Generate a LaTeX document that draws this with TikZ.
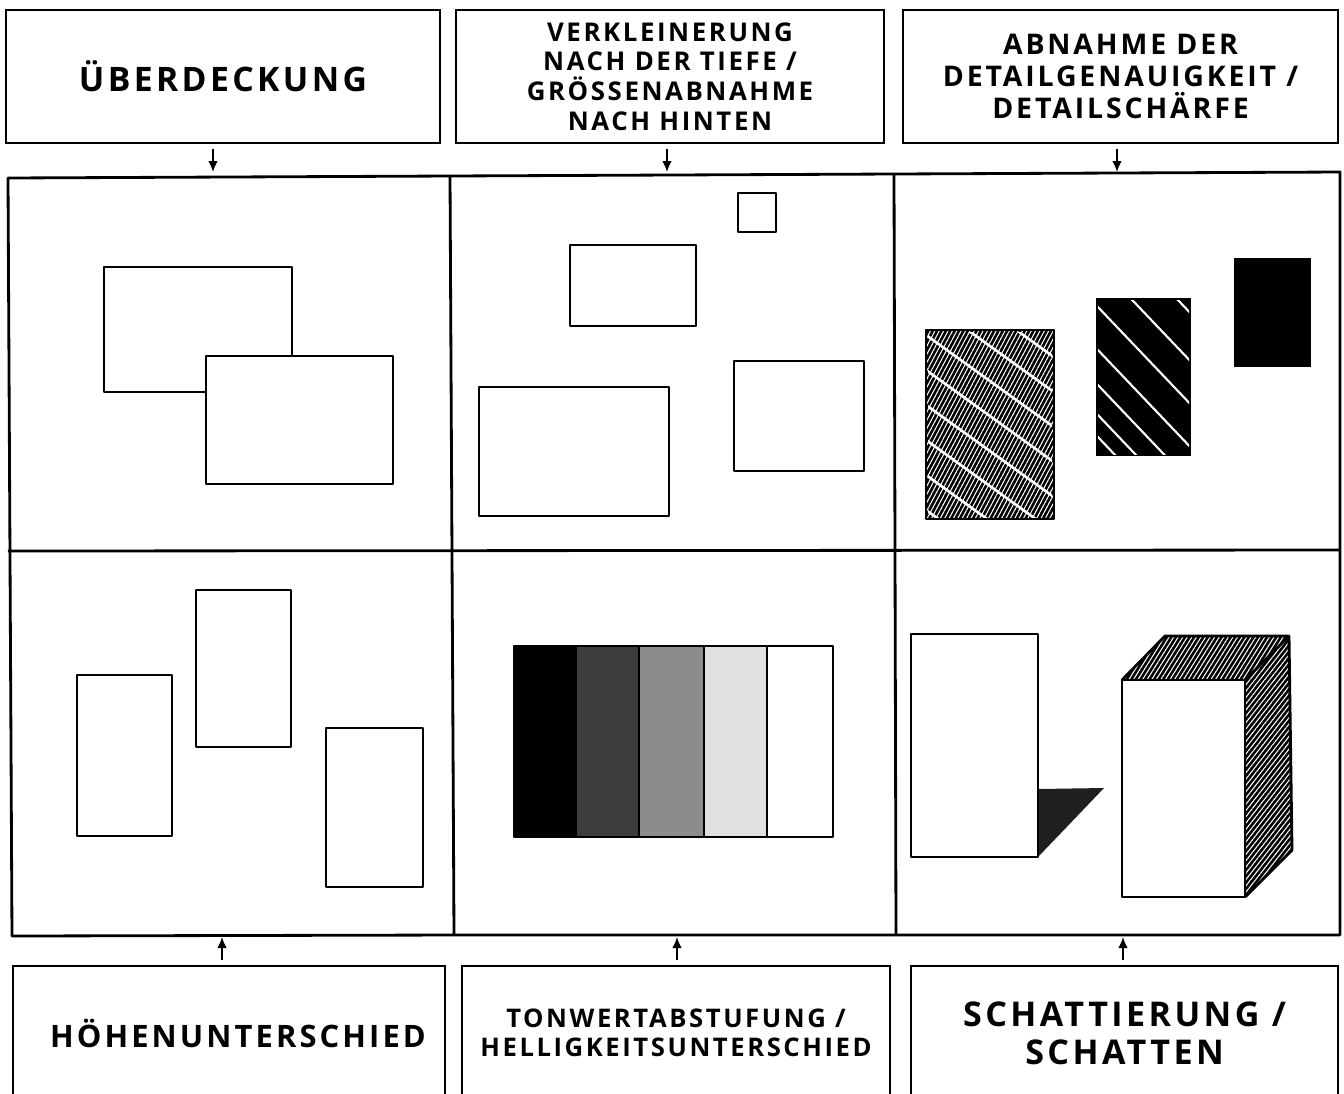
\documentclass[tikz,border=0pt]{standalone}
\usepackage{fontspec}
\setmainfont{Open Sans}[LetterSpace=10]
\usetikzlibrary{arrows.meta,patterns.meta}
\newcommand{\ts}[2]{\fontsize{#1}{#2}\selectfont\bfseries}

\begin{document}
\begin{tikzpicture}[x=0.02cm,y=-0.02cm,
  kasten/.style={draw,line width=1.5pt,align=center,inner sep=0pt},
  pfeil/.style={line width=0.9pt,-{Latex[length=2.2mm,width=1.9mm]}},
  strich/.style={line width=1.6pt,line join=round},
  schraffur/.style={pattern={Lines[angle=#1,distance=2.2pt,line width=0.6pt]},pattern color=white}]

\clip (0,0) rectangle (1344,1093);
\fill[white] (0,0) rectangle (1344,1093);

% Kaesten oben
\node[kasten,minimum width=8.68cm,minimum height=2.66cm,font=\ts{19.2}{22}] (t1) at (223,76.5) {ÜBERDECKUNG};
\node[kasten,minimum width=8.56cm,minimum height=2.66cm,font=\ts{14.7}{16.8}] (t2) at (670,76.5)
  {VERKLEINERUNG\\NACH DER TIEFE /\\GRÖSSENABNAHME\\NACH HINTEN};
\node[kasten,minimum width=8.70cm,minimum height=2.66cm,font=\ts{16.2}{18.2}] (t3) at (1120.5,76.5)
  {ABNAHME DER\\DETAILGENAUIGKEIT /\\DETAILSCHÄRFE};

% Kaesten unten
\node[kasten,minimum width=8.64cm,minimum height=2.68cm,font=\ts{17.6}{22}] (b1) at (229,1033)
  {\hspace*{0.36cm}HÖHENUNTERSCHIED};
\node[kasten,minimum width=8.56cm,minimum height=2.68cm,font=\ts{14.6}{16.4}] (b2) at (676,1033)
  {TONWERTABSTUFUNG /\\HELLIGKEITSUNTERSCHIED};
\node[kasten,minimum width=8.54cm,minimum height=2.68cm,font=\ts{19.4}{21.6}] (b3) at (1124.5,1033)
  {SCHATTIERUNG /\\SCHATTEN};

% Raster
\draw[strich] (8,178) -- (450,176) -- (894,174) -- (1340,172) -- (1340,935)
  -- (896,935) -- (454,935) -- (12,936) -- cycle;
\draw[strich] (450,176) -- (454,935);
\draw[strich] (894,174) -- (896,935);
\draw[strich] (8,551) -- (1340,550);

% Pfeile
\coordinate (g1) at (213,172);
\coordinate (g2) at (667,172);
\coordinate (g3) at (1117,172);
\coordinate (h1) at (222,937);
\coordinate (h2) at (677,937);
\coordinate (h3) at (1123,937);
\draw[pfeil,shorten <=0.1cm] (t1.south -| g1) -- (g1);
\draw[pfeil,shorten <=0.1cm] (t2.south -| g2) -- (g2);
\draw[pfeil,shorten <=0.1cm] (t3.south -| g3) -- (g3);
\draw[pfeil,shorten <=0.1cm] (b1.north -| h1) -- (h1);
\draw[pfeil,shorten <=0.1cm] (b2.north -| h2) -- (h2);
\draw[pfeil,shorten <=0.1cm] (b3.north -| h3) -- (h3);

% Ueberdeckung
\draw[strich] (104,267) rectangle (292,392);
\draw[strich,fill=white] (206,356) rectangle (393,484);

% Verkleinerung
\draw[strich] (738,193) rectangle (776,232);
\draw[strich] (570,245) rectangle (696,326);
\draw[strich] (479,387) rectangle (669,516);
\draw[strich] (734,361) rectangle (864,471);

% Detailschaerfe
\fill[black] (926,330) rectangle (1054,519);
\fill[schraffur=62] (926,330) rectangle (1054,519);
\begin{scope}
  \clip (928,332) rectangle (1052,517);
  \foreach \y in {265,300,...,510}
    \draw[white,line width=1.5pt] (926,\y) -- ++(140,100.8);
\end{scope}
\draw[strich] (926,330) rectangle (1054,519);
\fill[black] (1096,298) rectangle (1191,456);
\begin{scope}
  \clip (1098,300) rectangle (1189,454);
  \foreach \y in {214,262,305,348,383,413,435}
    \draw[white,line width=1.2pt] (1096,\y) -- ++(110,115.5);
\end{scope}
\fill[black] (1234,258) rectangle (1311,367);

% Hoehenunterschied
\draw[strich] (77,675) rectangle (172,836);
\draw[strich] (196,590) rectangle (291,747);
\draw[strich] (326,728) rectangle (423,887);

% Tonwertabstufung
\fill[black] (514,646) rectangle (576,837);
\fill[black!76] (576,646) rectangle (639,837);
\fill[black!45] (639,646) rectangle (704,837);
\fill[black!12] (704,646) rectangle (767,837);
\draw[strich] (514,646) rectangle (833,837);
\foreach \x in {576,639,704,767}
  \draw[strich] (\x,646) -- (\x,837);

% Schattierung
\fill[black!88] (1038,789) -- (1104,788) -- (1038,857) -- cycle;
\draw[strich] (911,634) rectangle (1038,857);
\fill[black] (1122,680) -- (1165,636) -- (1289,636) -- (1245,680) -- cycle;
\fill[schraffur=58] (1122,680) -- (1165,636) -- (1289,636) -- (1245,680) -- cycle;
\fill[black] (1245,680) -- (1289,636) -- (1292,850) -- (1245,897) -- cycle;
\fill[schraffur=52] (1245,680) -- (1289,636) -- (1292,850) -- (1245,897) -- cycle;
\draw[strich] (1122,680) -- (1165,636) -- (1289,636) -- (1292,850) -- (1245,897);
\draw[strich] (1245,680) -- (1289,636);
\draw[strich] (1122,680) rectangle (1245,897);

\end{tikzpicture}
\end{document}
